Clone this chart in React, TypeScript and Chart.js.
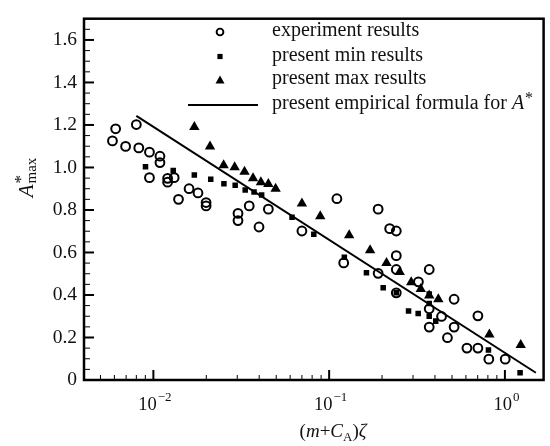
import React, { useEffect, useRef } from 'react';
import { Chart, registerables } from 'chart.js';

Chart.register(...registerables);

// experiment results (hollow circles)
const expX = [0.00585, 0.0061, 0.00695, 0.008, 0.00826, 0.0095, 0.0095, 0.0109, 0.0109, 0.01205, 0.01205, 0.01313, 0.0139, 0.01596, 0.01794, 0.01995, 0.01995, 0.0303, 0.0303, 0.0351, 0.0399, 0.0451, 0.07, 0.1107, 0.121, 0.19, 0.221, 0.241, 0.241, 0.241, 0.19, 0.241, 0.322, 0.371, 0.371, 0.371, 0.436, 0.514, 0.514, 0.471, 0.702, 0.608, 0.702, 0.81, 1.004];
const expY = [1.125, 1.182, 1.099, 1.202, 1.092, 1.072, 0.952, 1.053, 1.023, 0.949, 0.931, 0.952, 0.85, 0.9, 0.88, 0.835, 0.819, 0.784, 0.75, 0.819, 0.72, 0.804, 0.701, 0.853, 0.551, 0.804, 0.712, 0.701, 0.585, 0.52, 0.502, 0.41, 0.462, 0.52, 0.335, 0.249, 0.299, 0.38, 0.249, 0.199, 0.302, 0.15, 0.15, 0.098, 0.098];

// present min results (filled squares)
const minX = [0.00902, 0.01297, 0.0171, 0.0212, 0.0252, 0.0292, 0.0333, 0.0374, 0.0413, 0.0615, 0.0818, 0.122, 0.163, 0.203, 0.241, 0.283, 0.321, 0.371, 0.371, 0.371, 0.404, 0.806, 1.22];
const minY = [1.003, 0.986, 0.965, 0.945, 0.923, 0.916, 0.894, 0.885, 0.87, 0.766, 0.686, 0.578, 0.505, 0.434, 0.411, 0.325, 0.313, 0.405, 0.36, 0.3, 0.277, 0.141, 0.034];

// present max results (filled triangles)
const maxX = [0.0171, 0.021, 0.0251, 0.029, 0.033, 0.0369, 0.0409, 0.0451, 0.0496, 0.07, 0.089, 0.13, 0.171, 0.212, 0.252, 0.293, 0.332, 0.371, 0.418, 0.816, 1.23];
const maxY = [1.191, 1.099, 1.011, 1.001, 0.98, 0.949, 0.931, 0.922, 0.9, 0.831, 0.77, 0.681, 0.61, 0.551, 0.508, 0.46, 0.428, 0.398, 0.38, 0.214, 0.165];

// present empirical formula (straight line in semi-log)
const fitX = [0.008, 1.5];
const fitY = [1.243, 0.034];

const yTickValues = [0, 0.2, 0.4, 0.6, 0.8, 1.0, 1.2, 1.4, 1.6];
const xDecades = [0.01, 0.1, 1];
const xDecadeExponents = ['\u22122', '\u22121', '0'];

const legendLabels = ['experiment results', 'present min results', 'present max results', 'present empirical formula for '];

const SERIF = '"Liberation Serif", "Times New Roman", serif';

const pts = (xs: number[], ys: number[]) => xs.map((x, i) => ({ x, y: ys[i] }));

const decoPlugin = {
  id: 'deco',
  afterDraw(chart: any) {
    const { ctx, chartArea: a, scales } = chart;
    const xs = scales.x;
    const ys = scales.y;
    ctx.save();
    ctx.strokeStyle = '#000';
    ctx.fillStyle = '#111';

    // y ticks (inward)
    for (let i = 0; i <= 34; i++) {
      const v = i * 0.05;
      const p = ys.getPixelForValue(v);
      const major = i % 4 === 0;
      ctx.lineWidth = major ? 2 : 1;
      ctx.beginPath();
      ctx.moveTo(a.left, p);
      ctx.lineTo(a.left + (major ? 10 : 6), p);
      ctx.stroke();
    }
    // x ticks (inward)
    for (let d = -3; d <= 0; d++) {
      for (let k = 1; k <= 9; k++) {
        const v = k * Math.pow(10, d);
        if (v < xs.min || v > xs.max) continue;
        const p = xs.getPixelForValue(v);
        const major = k === 1;
        ctx.lineWidth = major ? 2 : 1;
        ctx.beginPath();
        ctx.moveTo(p, a.bottom);
        ctx.lineTo(p, a.bottom - (major ? 10 : 5));
        ctx.stroke();
      }
    }
    // frame
    ctx.lineWidth = 2.5;
    ctx.strokeRect(a.left, a.top, a.right - a.left, a.bottom - a.top);

    // x tick labels 10^n
    ctx.textBaseline = 'alphabetic';
    ctx.textAlign = 'left';
    xDecades.forEach((v, i) => {
      const p = xs.getPixelForValue(v);
      ctx.font = `18.5px ${SERIF}`;
      const wBase = ctx.measureText('10').width;
      ctx.font = `13px ${SERIF}`;
      const wExp = ctx.measureText(xDecadeExponents[i]).width;
      const start = p - (wBase + wExp) / 2 + 1;
      ctx.font = `18.5px ${SERIF}`;
      ctx.fillText('10', start, 410);
      ctx.font = `13px ${SERIF}`;
      ctx.fillText(xDecadeExponents[i], start + wBase + 1, 401);
    });

    // x axis title (m+C_A)ζ
    const parts: [string, string, number][] = [
      ['(', `19px ${SERIF}`, 0],
      ['m', `italic 19px ${SERIF}`, 0],
      ['+', `19px ${SERIF}`, 0],
      ['C', `italic 19px ${SERIF}`, 0],
      ['A', `13px ${SERIF}`, 4],
      [')', `19px ${SERIF}`, 0],
      ['\u03B6', `italic 19px ${SERIF}`, 0],
    ];
    let total = 0;
    const widths = parts.map(([t, f]) => { ctx.font = f; const w = ctx.measureText(t).width; total += w; return w; });
    let cx = 333 - total / 2;
    parts.forEach(([t, f, dy], i) => {
      ctx.font = f;
      ctx.fillText(t, cx, 437 + dy);
      cx += widths[i];
    });

    // y axis title A*_max (rotated)
    ctx.save();
    ctx.translate(33, 178);
    ctx.rotate(-Math.PI / 2);
    ctx.font = `italic 21px ${SERIF}`;
    const wA = ctx.measureText('A').width;
    ctx.font = `15px ${SERIF}`;
    const wMax = ctx.measureText('max').width;
    const s = -(wA + wMax) / 2;
    ctx.font = `italic 21px ${SERIF}`;
    ctx.fillText('A', s, 0);
    ctx.font = `15px ${SERIF}`;
    ctx.fillText('max', s + wA + 1, 3);
    ctx.font = `17px ${SERIF}`;
    ctx.fillText('*', s + wA + 1, -7);
    ctx.restore();

    // legend
    const lx = 220;
    const rows = [32, 56.5, 80, 105];
    ctx.fillStyle = '#000';
    ctx.lineWidth = 1.9;
    ctx.beginPath();
    ctx.arc(lx, rows[0], 3.4, 0, Math.PI * 2);
    ctx.stroke();
    ctx.fillRect(lx - 2.6, rows[1] - 2.6, 5.2, 5.2);
    ctx.beginPath();
    ctx.moveTo(lx, rows[2] - 4.5);
    ctx.lineTo(lx + 4.5, rows[2] + 3.5);
    ctx.lineTo(lx - 4.5, rows[2] + 3.5);
    ctx.closePath();
    ctx.fill();
    ctx.lineWidth = 2;
    ctx.beginPath();
    ctx.moveTo(188, rows[3]);
    ctx.lineTo(258, rows[3]);
    ctx.stroke();

    ctx.fillStyle = '#111';
    legendLabels.forEach((t, i) => {
      ctx.font = `20px ${SERIF}`;
      ctx.fillText(t, 272, rows[i] + 4);
      if (i === 3) {
        const w = ctx.measureText(t).width;
        ctx.font = `italic 20px ${SERIF}`;
        ctx.fillText('A', 272 + w, rows[i] + 4);
        const wa = ctx.measureText('A').width;
        ctx.font = `16px ${SERIF}`;
        ctx.fillText('*', 272 + w + wa + 1, rows[i] - 2);
      }
    });
    ctx.restore();
  },
};

export default function App() {
  const ref = useRef<HTMLCanvasElement | null>(null);
  useEffect(() => {
    if (!ref.current) return;
    const chart = new Chart(ref.current, {
      type: 'scatter',
      data: {
        datasets: [
          {
            label: 'experiment results',
            data: pts(expX, expY),
            pointStyle: 'circle',
            pointRadius: 4.4,
            pointBorderWidth: 2,
            borderColor: '#000',
            backgroundColor: 'rgba(0,0,0,0)',
            showLine: false,
          },
          {
            label: 'present min results',
            data: pts(minX, minY),
            pointStyle: 'rect',
            pointRadius: 3.9,
            pointBorderWidth: 0,
            borderColor: '#000',
            backgroundColor: '#000',
            showLine: false,
          },
          {
            label: 'present max results',
            data: pts(maxX, maxY),
            pointStyle: 'triangle',
            pointRadius: 6,
            pointBorderWidth: 0,
            borderColor: '#000',
            backgroundColor: '#000',
            showLine: false,
          },
          {
            label: 'present empirical formula for A*',
            data: pts(fitX, fitY),
            showLine: true,
            pointRadius: 0,
            borderWidth: 2,
            borderColor: '#000',
            backgroundColor: '#000',
          },
        ],
      },
      options: {
        responsive: false,
        animation: false,
        devicePixelRatio: 1,
        layout: { padding: { top: 10, right: 2, left: 0, bottom: 0 } },
        plugins: { legend: { display: false }, tooltip: { enabled: false } },
        scales: {
          x: {
            type: 'logarithmic',
            min: 0.00403,
            max: 1.66,
            grid: { display: false },
            border: { display: false },
            ticks: { display: false },
            afterFit: (scale: any) => { scale.height = 66; },
          },
          y: {
            type: 'linear',
            min: 0,
            max: 1.7,
            grid: { display: false, drawTicks: false },
            border: { display: false },
            afterBuildTicks: (scale: any) => {
              scale.ticks = yTickValues.map((value) => ({ value }));
            },
            ticks: {
              padding: 7,
              autoSkip: false,
              color: '#111',
              font: { family: SERIF, size: 19.5 },
              callback: (v: any) => {
                const n = Number(v);
                return n === 0 ? '0' : n.toFixed(1);
              },
            },
            afterFit: (scale: any) => { scale.width = 84; },
          },
        },
      },
      plugins: [decoPlugin],
    } as any);
    return () => chart.destroy();
  }, []);
  return (
    <div style={{ position: 'fixed', left: 0, top: 0, width: 550, height: 446, background: '#fff' }}>
      <canvas ref={ref} width={550} height={446} style={{ display: 'block' }} />
    </div>
  );
}
